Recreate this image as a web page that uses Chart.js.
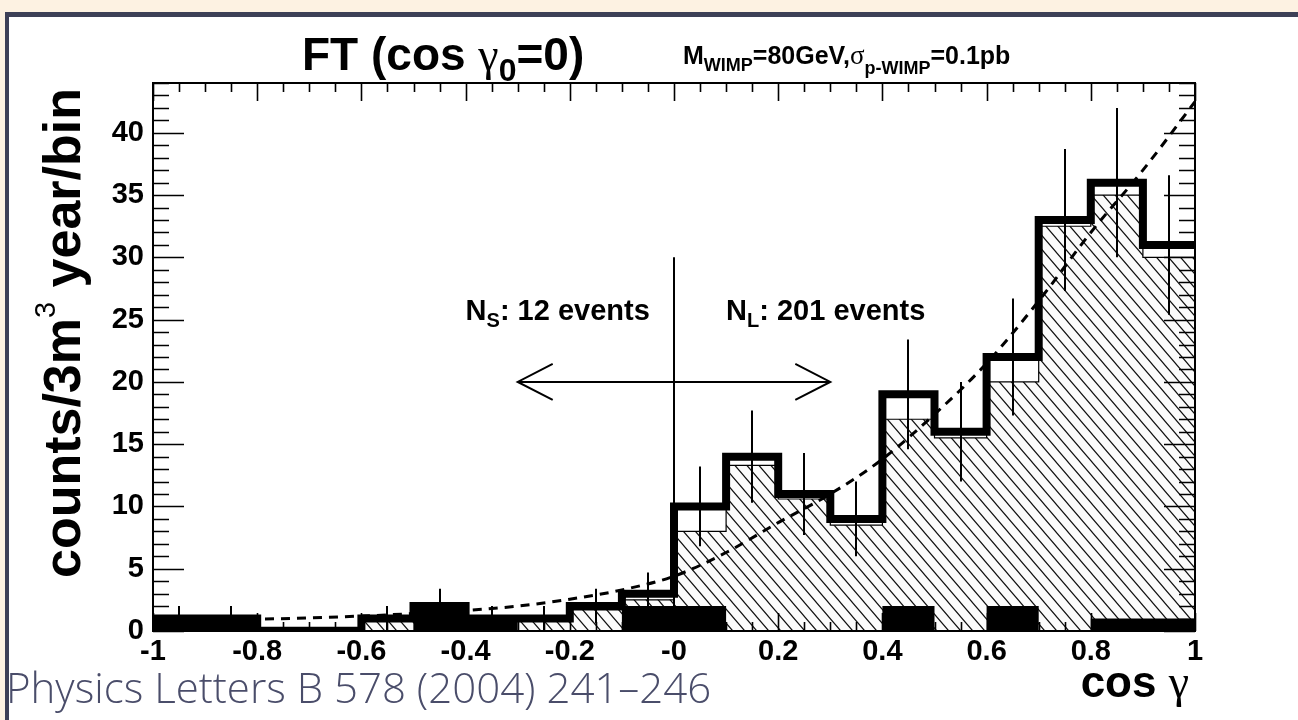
<!DOCTYPE html>
<html>
<head>
<meta charset="utf-8">
<script src="https://cdn.jsdelivr.net/npm/chart.js@4.4.0/dist/chart.umd.min.js"></script>
<style>
  html, body { margin: 0; padding: 0; }
  body { width: 1298px; height: 720px; background: #fdf2e2; position: relative; overflow: hidden; }
  #frame { position: absolute; left: 5px; top: 12px; right: 0; bottom: 0; background: #fff;
           border-top: 5px solid #3d4057; border-left: 4px solid #3d4057; }
  #wrap { position: absolute; left: 0; top: 0; width: 1298px; height: 720px; }
  #cite { position: absolute; left: 6px; top: 666px; font-family: 'Open Sans', sans-serif; font-weight: 300;
          font-size: 42px; line-height: 1; color: #4a4d6a; white-space: nowrap; }
</style>
</head>
<body>
<div id="frame"></div>
<div id="wrap"><canvas id="chart"></canvas></div>
<div id="cite">Physics Letters B 578 (2004) 241–246</div>
<script>
// bin edges of cos(gamma), 20 bins
const binEdges = [-1, -0.9, -0.8, -0.7, -0.6, -0.5, -0.4, -0.3, -0.2, -0.1, 0,
                  0.1, 0.2, 0.3, 0.4, 0.5, 0.6, 0.7, 0.8, 0.9, 1];
// observed counts (thick line) and their error bars
const observed  = [1, 1, 0, 0, 1, 2, 1, 1, 2, 3, 10, 14, 11, 9, 19, 16, 22, 33, 36, 31];
const obsErrors = [1, 1, 0, 0, 1, 1.4, 1, 1, 1.4, 1.7, 3.2, 3.7, 3.3, 3, 4.4, 4, 4.7, 5.7, 6, 5.6];
// expected (hatched)
const expected  = [0.8, 0.8, 0.3, 0.3, 0.8, 1, 1, 0.8, 1.7, 2.5, 8, 13.3, 10.6, 8.5, 17, 15.5, 20, 32.5, 35, 30];
// black filled histogram
const blackFill = [1, 1, 0, 0, 0, 2, 1, 0, 0, 2, 2, 0, 0, 0, 2, 0, 2, 0, 1, 1];
// dashed curve
const curveX = [-1, -0.9, -0.8, -0.7, -0.6, -0.5, -0.4, -0.3, -0.2, -0.1, 0,
                0.1, 0.2, 0.3, 0.4, 0.5, 0.6, 0.7, 0.8, 0.9, 1];
const curveY = [0.85, 0.9, 0.95, 1.05, 1.2, 1.4, 1.65, 2.0, 2.55, 3.3, 4.4,
                6.3, 8.7, 11.0, 13.8, 17.4, 21.5, 26.5, 32.0, 37.0, 42.5];
const xTickLabels = ['-1', '-0.8', '-0.6', '-0.4', '-0.2', '-0', '0.2', '0.4', '0.6', '0.8', '1'];

// separator line at cos=0 and the double arrow
const sepLine = { x: 0, top: 30 };
const arrow = { from: -0.3, to: 0.3, y: 20 };
const notes = [
  { x: -0.4, y: 25, main: 'N', sub: 'S', rest: ': 12 events' },
  { x: 0.1,  y: 25, main: 'N', sub: 'L', rest: ': 201 events' }
];

const SANS = '"Liberation Sans", Arial, Helvetica, sans-serif';
const SERIF = '"Liberation Serif", "Times New Roman", serif';

function histPoints(vals) {
  let pts = vals.map((v, i) => ({ x: binEdges[i], y: v }));
  pts.push({ x: binEdges[binEdges.length - 1], y: vals[vals.length - 1] });
  return pts;
}

function hatchPattern() {
  let c = document.createElement('canvas');
  c.width = 12; c.height = 14;
  let g = c.getContext('2d');
  g.fillStyle = '#fbfbfb';
  g.fillRect(0, 0, 12, 14);
  g.strokeStyle = '#111';
  g.lineWidth = 1.2;
  g.beginPath();
  g.moveTo(-12, -14); g.lineTo(24, 28);
  g.moveTo(-12, 0); g.lineTo(12, 28);
  g.moveTo(0, -14); g.lineTo(24, 14);
  g.stroke();
  return g.createPattern(c, 'repeat');
}

// text with sub/superscripts
function richText(ctx, parts, x, y, align) {
  let w = 0;
  parts.forEach(p => { ctx.font = p.f; p.w = ctx.measureText(p.t).width; w += p.w; });
  let cx = align === 'center' ? x - w / 2 : (align === 'right' ? x - w : x);
  ctx.textAlign = 'left';
  ctx.textBaseline = 'alphabetic';
  parts.forEach(p => { ctx.font = p.f; ctx.fillText(p.t, cx, y + (p.dy || 0)); cx += p.w; });
}

const rootStyle = {
  id: 'rootStyle',
  afterDatasetsDraw(chart) {
    const { ctx, chartArea: a, scales: { x, y } } = chart;
    ctx.save();
    ctx.strokeStyle = '#000';
    ctx.fillStyle = '#000';

    // error bars
    ctx.lineWidth = 2;
    ctx.beginPath();
    observed.forEach((v, i) => {
      if (!obsErrors[i]) return;
      let px = Math.round(x.getPixelForValue((binEdges[i] + binEdges[i + 1]) / 2));
      ctx.moveTo(px, y.getPixelForValue(Math.max(0, v - obsErrors[i])));
      ctx.lineTo(px, y.getPixelForValue(v + obsErrors[i]));
    });
    ctx.stroke();

    // separator line at cos gamma = 0
    ctx.beginPath();
    let sx = Math.round(x.getPixelForValue(sepLine.x));
    ctx.moveTo(sx, y.getPixelForValue(0));
    ctx.lineTo(sx, y.getPixelForValue(sepLine.top));
    ctx.stroke();

    // double arrow
    let ax1 = x.getPixelForValue(arrow.from), ax2 = x.getPixelForValue(arrow.to);
    let ay = y.getPixelForValue(arrow.y);
    ctx.beginPath();
    ctx.moveTo(ax1, ay); ctx.lineTo(ax2, ay);
    ctx.moveTo(ax1 + 35, ay - 18); ctx.lineTo(ax1, ay); ctx.lineTo(ax1 + 35, ay + 18);
    ctx.moveTo(ax2 - 35, ay - 18); ctx.lineTo(ax2, ay); ctx.lineTo(ax2 - 35, ay + 18);
    ctx.stroke();

    // frame
    ctx.lineWidth = 2;
    ctx.strokeRect(a.left, a.top, a.width, a.height);

    // inward ticks on all four sides
    ctx.lineWidth = 1.6;
    ctx.beginPath();
    for (let i = 0; i <= 40; i++) {
      let px = Math.round(x.getPixelForValue(-1 + i * 0.05)) + 0.5;
      let len = i % 4 === 0 ? 18 : 9;
      ctx.moveTo(px, a.top); ctx.lineTo(px, a.top + len);
      ctx.moveTo(px, a.bottom); ctx.lineTo(px, a.bottom - len);
    }
    for (let v = 0; v <= 44; v++) {
      let py = Math.round(y.getPixelForValue(v)) + 0.5;
      let len = v % 5 === 0 ? 31 : 16;
      ctx.moveTo(a.left, py); ctx.lineTo(a.left + len, py);
      ctx.moveTo(a.right, py); ctx.lineTo(a.right - len, py);
    }
    ctx.stroke();

    // annotations
    notes.forEach(n => {
      richText(ctx, [
        { t: n.main, f: 'bold 29px ' + SANS },
        { t: n.sub, f: 'bold 20px ' + SANS, dy: 7 },
        { t: n.rest, f: 'bold 29px ' + SANS }
      ], x.getPixelForValue(n.x), y.getPixelForValue(n.y), 'left');
    });

    // titles
    richText(ctx, [
      { t: 'FT (cos ', f: 'bold 46px ' + SANS },
      { t: 'γ', f: '46px ' + SERIF },
      { t: '0', f: 'bold 32px ' + SANS, dy: 11 },
      { t: '=0)', f: 'bold 46px ' + SANS }
    ], 302, 70, 'left');
    richText(ctx, [
      { t: 'M', f: 'bold 25px ' + SANS },
      { t: 'WIMP', f: 'bold 18px ' + SANS, dy: 7 },
      { t: '=80GeV,', f: 'bold 25px ' + SANS },
      { t: 'σ', f: '27px ' + SERIF },
      { t: 'p-WIMP', f: 'bold 18px ' + SANS, dy: 10 },
      { t: '=0.1pb', f: 'bold 25px ' + SANS }
    ], 683, 64, 'left');

    // x title
    richText(ctx, [
      { t: 'cos ', f: 'bold 44px ' + SANS },
      { t: 'γ', f: '46px ' + SERIF }
    ], a.right - 6, 697, 'right');

    // y title
    ctx.translate(80, 333);
    ctx.rotate(-Math.PI / 2);
    richText(ctx, [
      { t: 'counts/3m', f: 'bold 52px ' + SANS },
      { t: '3', f: '29px ' + SANS, dy: -25 },
      { t: ' year/bin', f: 'bold 52px ' + SANS }
    ], 0, 0, 'center');
    ctx.restore();
  }
};

const ctx = document.getElementById('chart').getContext('2d');
const chart = new Chart(ctx, {
  type: 'line',
  data: {
    datasets: [
      {
        label: 'observed',
        data: histPoints(observed),
        stepped: 'before',
        borderColor: '#000',
        borderWidth: 8,
        borderJoinStyle: 'miter',
        fill: false,
        pointRadius: 0,
        order: 1
      },
      {
        label: 'black',
        data: histPoints(blackFill),
        stepped: 'before',
        borderWidth: 0,
        borderColor: 'rgba(0,0,0,0)',
        backgroundColor: '#000',
        fill: 'origin',
        pointRadius: 0,
        order: 2
      },
      {
        label: 'curve',
        data: curveX.map((v, i) => ({ x: v, y: curveY[i] })),
        borderColor: '#000',
        borderWidth: 3,
        borderDash: [9, 7],
        cubicInterpolationMode: 'monotone',
        fill: false,
        pointRadius: 0,
        order: 3
      },
      {
        label: 'expected',
        data: histPoints(expected),
        stepped: 'before',
        borderColor: '#000',
        borderWidth: 1.2,
        backgroundColor: hatchPattern(),
        fill: 'origin',
        pointRadius: 0,
        order: 4
      }
    ]
  },
  options: {
    responsive: true,
    maintainAspectRatio: false,
    animation: false,
    devicePixelRatio: 1,
    layout: { padding: { left: 0, top: 83, right: 103, bottom: 0 } },
    plugins: { legend: { display: false }, tooltip: { enabled: false }, title: { display: false } },
    scales: {
      x: {
        type: 'linear',
        min: -1, max: 1,
        offset: false,
        grid: { display: false, drawTicks: false },
        border: { display: false },
        ticks: {
          stepSize: 0.2, autoSkip: false, maxRotation: 0, padding: 4, color: '#000',
          font: { family: SANS, weight: 'bold', size: 29 },
          callback: (v, i) => xTickLabels[i]
        },
        afterFit: s => { s.height = 89; }
      },
      y: {
        type: 'linear',
        min: 0, max: 44,
        grid: { display: false, drawTicks: false },
        border: { display: false },
        ticks: {
          stepSize: 5, includeBounds: false, padding: 9, color: '#000',
          font: { family: SANS, weight: 'bold', size: 29 }
        },
        afterFit: s => { s.width = 153; }
      }
    }
  },
  plugins: [rootStyle]
});
</script>
</body>
</html>
